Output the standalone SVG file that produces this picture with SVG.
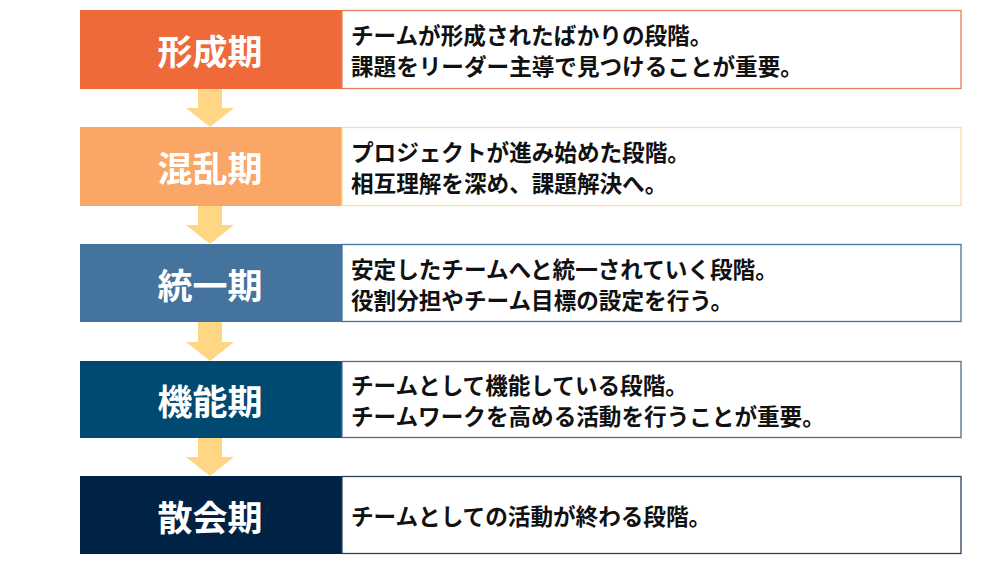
<svg xmlns="http://www.w3.org/2000/svg" width="1000" height="562" viewBox="0 0 1000 562">
<style>
.lbl{font-family:"Noto Sans CJK JP","Noto Sans",sans-serif;font-weight:bold;font-size:35px;fill:#fff;text-anchor:middle;dominant-baseline:central}
.txt{font-family:"Noto Sans CJK JP","Noto Sans",sans-serif;font-weight:bold;font-size:22.6px;fill:#111;dominant-baseline:central}
.desc{fill:#fff;stroke-width:1.3}
.arrow{fill:#FFD683}
</style>
<rect width="1000" height="562" fill="#fff"/>
<g id="connectors">
<path class="arrow" d="M198,89 H222 V108 H234 L210,127 L186,108 H198 Z"/>
<path class="arrow" d="M198,206 H222 V225 H234 L210,244 L186,225 H198 Z"/>
<path class="arrow" d="M198,322 H222 V342 H234 L210,361 L186,342 H198 Z"/>
<path class="arrow" d="M198,438 H222 V457 H234 L210,476 L186,457 H198 Z"/>
</g>
<g id="node1">
<rect x="80" y="10" width="262" height="79" fill="#EE6A3B"/>
<rect class="desc" x="342" y="10.5" width="619" height="78" stroke="#E0805E"/>
<text class="lbl" x="210" y="49">形成期</text>
<text class="txt" x="351" y="34">チームが形成されたばかりの段階。</text>
<text class="txt" x="351" y="65">課題をリーダー主導で見つけることが重要。</text>
</g>
<g id="node2">
<rect x="80" y="127" width="262" height="79" fill="#F9A666"/>
<rect class="desc" x="342" y="127.5" width="619" height="78" stroke="#F8DFA8"/>
<text class="lbl" x="210" y="166">混乱期</text>
<text class="txt" x="351" y="151">プロジェクトが進み始めた段階。</text>
<text class="txt" x="351" y="182">相互理解を深め、課題解決へ。</text>
</g>
<g id="node3">
<rect x="80" y="244" width="262" height="78" fill="#44739E"/>
<rect class="desc" x="342" y="244.5" width="619" height="77" stroke="#44739E"/>
<text class="lbl" x="210" y="283">統一期</text>
<text class="txt" x="351" y="268">安定したチームへと統一されていく段階。</text>
<text class="txt" x="351" y="299">役割分担やチーム目標の設定を行う。</text>
</g>
<g id="node4">
<rect x="80" y="361" width="262" height="77" fill="#004A72"/>
<rect class="desc" x="342" y="361.5" width="619" height="76" stroke="#4A6F90"/>
<text class="lbl" x="210" y="399">機能期</text>
<text class="txt" x="351" y="384">チームとして機能している段階。</text>
<text class="txt" x="351" y="415">チームワークを高める活動を行うことが重要。</text>
</g>
<g id="node5">
<rect x="80" y="476" width="262" height="78" fill="#002244"/>
<rect class="desc" x="342" y="476.5" width="619" height="77" stroke="#2A3F5C"/>
<text class="lbl" x="210" y="515">散会期</text>
<text class="txt" x="351" y="515">チームとしての活動が終わる段階。</text>
</g>
</svg>
